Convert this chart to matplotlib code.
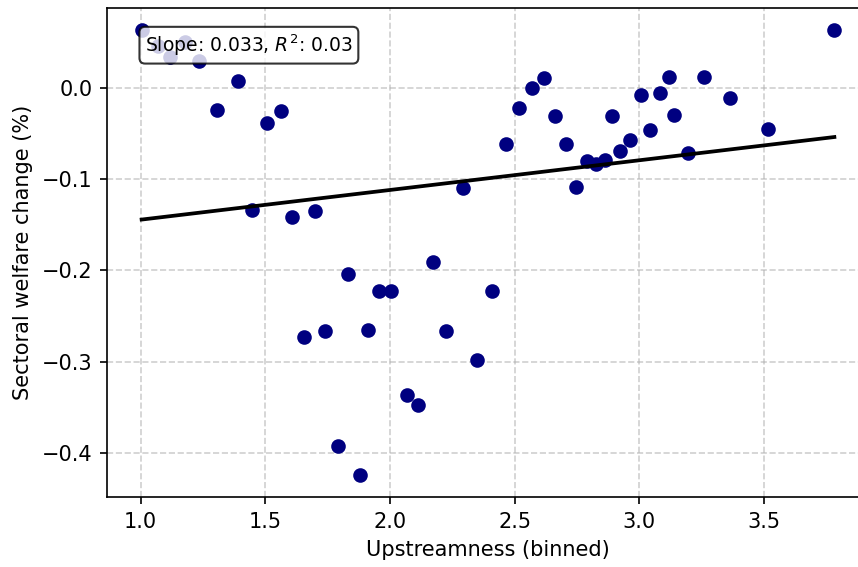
import numpy as np
import matplotlib
matplotlib.use('Agg')
import matplotlib.pyplot as plt

upstreamness = np.array([
    1.004, 1.071, 1.119, 1.178, 1.233, 1.308, 1.389, 1.445, 1.507, 1.562,
    1.606, 1.657, 1.700, 1.740, 1.790, 1.831, 1.880, 1.911, 1.956, 2.006,
    2.067, 2.113, 2.173, 2.224, 2.292, 2.348, 2.408, 2.465, 2.518, 2.568,
    2.616, 2.663, 2.704, 2.747, 2.789, 2.826, 2.862, 2.891, 2.923, 2.963,
    3.006, 3.044, 3.084, 3.118, 3.139, 3.195, 3.260, 3.362, 3.515, 3.782,
])
welfare = np.array([
    0.0634, 0.0456, 0.0335, 0.0500, 0.0300, -0.0240, 0.0073, -0.1340, -0.0386, -0.0251,
    -0.1413, -0.2730, -0.1350, -0.2667, -0.3920, -0.2040, -0.4240, -0.2656, -0.2220, -0.2230,
    -0.3370, -0.3480, -0.1910, -0.2667, -0.1100, -0.2980, -0.2230, -0.0612, -0.0220, -0.0003,
    0.0106, -0.0310, -0.0616, -0.1090, -0.0798, -0.0838, -0.0787, -0.0306, -0.0685, -0.0565,
    -0.0077, -0.0460, -0.0055, 0.0120, -0.0290, -0.0714, 0.0117, -0.0109, -0.0450, 0.0634,
])

# Linear fit
slope, intercept = np.polyfit(upstreamness, welfare, 1)
pred = slope * upstreamness + intercept
r2 = 1 - np.sum((welfare - pred) ** 2) / np.sum((welfare - welfare.mean()) ** 2)

fig = plt.figure(figsize=(858 / 150, 567 / 150), dpi=150)
ax = fig.add_axes([107 / 858, 70 / 567, 762 / 858, 489 / 567])

ax.scatter(upstreamness, welfare, color='navy', s=36, zorder=3)
x_line = np.linspace(upstreamness.min(), upstreamness.max(), 100)
ax.plot(x_line, slope * x_line + intercept, color='black', linewidth=1.8, zorder=4)

ax.text(0.05, 0.95, f'Slope: {slope:.3f}, $R^2$: {r2:.2f}', transform=ax.transAxes,
        va='top', ha='left', fontsize=9, zorder=5,
        bbox=dict(boxstyle='round', facecolor='white', edgecolor='black', alpha=0.8))

ax.set_xlabel('Upstreamness (binned)')
ax.set_ylabel('Sectoral welfare change (%)')
ax.grid(True, linestyle='--', alpha=0.6)
ax.set_xticks([1.0, 1.5, 2.0, 2.5, 3.0, 3.5])
ax.set_yticks([0.0, -0.1, -0.2, -0.3, -0.4])

fig.savefig('out.png', dpi=150)
